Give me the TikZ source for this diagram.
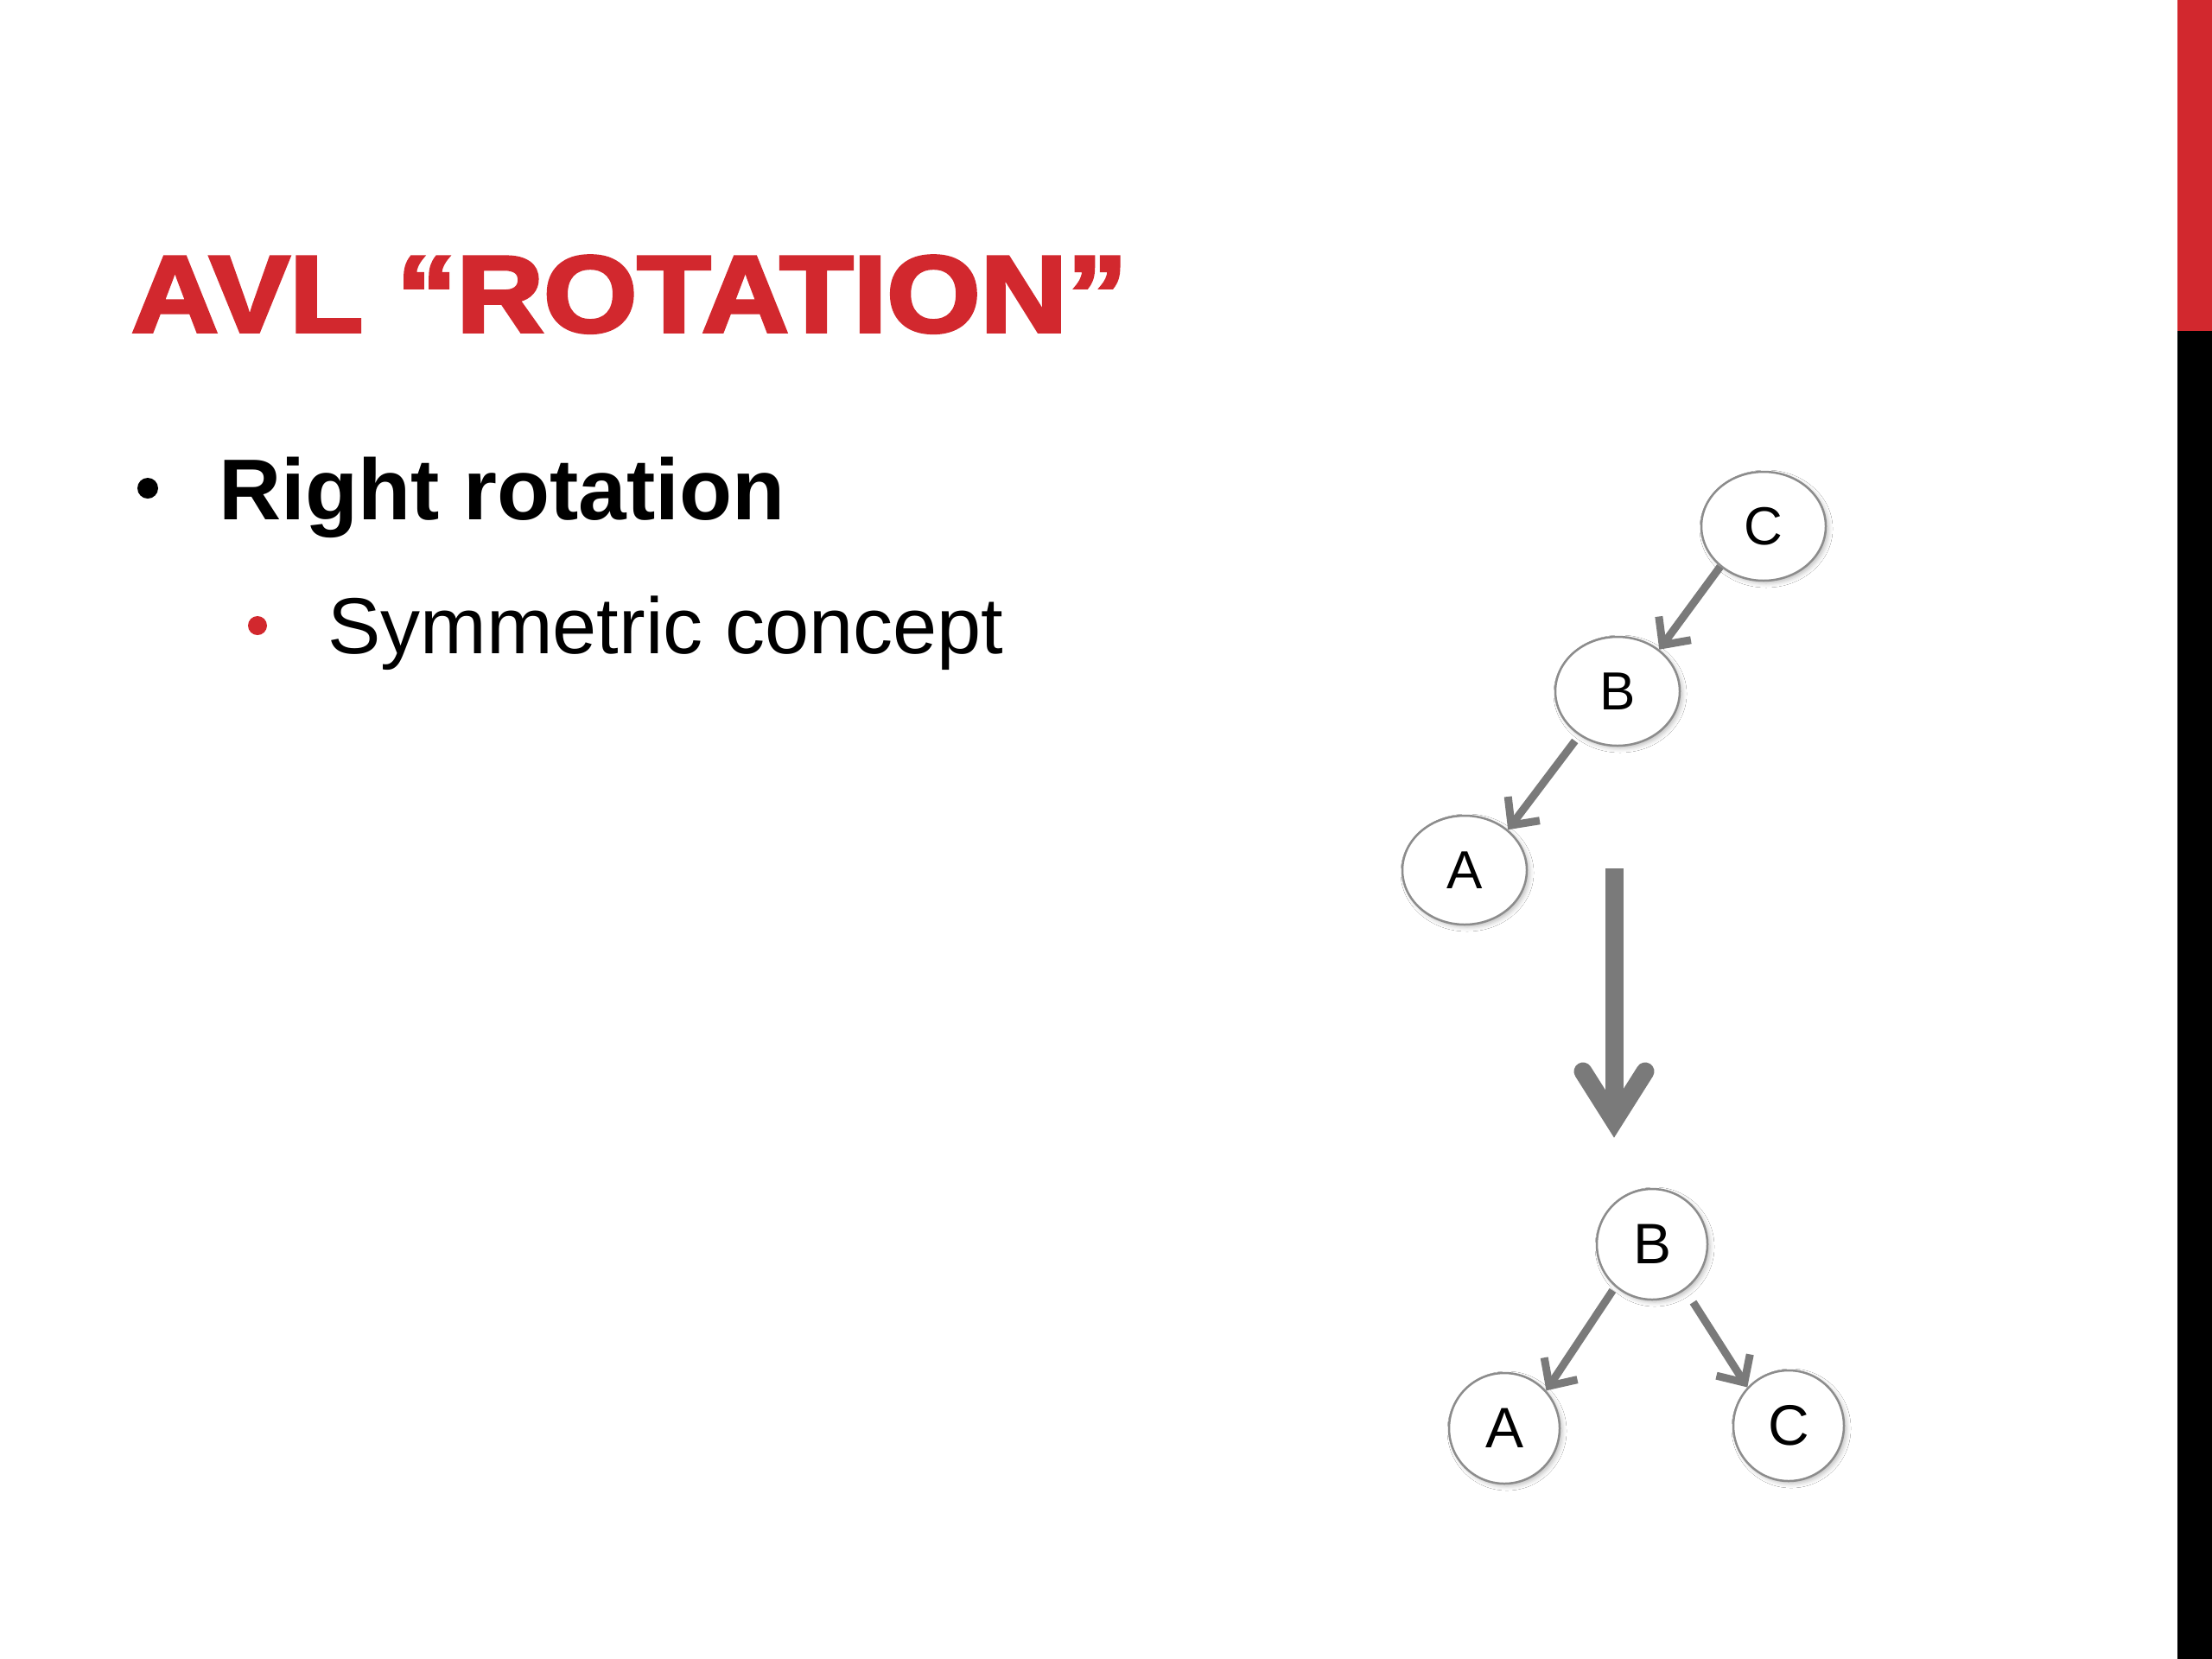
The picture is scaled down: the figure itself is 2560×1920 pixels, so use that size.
\documentclass[tikz,border=0pt]{standalone}
\usepackage{fontspec}
\usepackage{graphicx}
\setmainfont{Liberation Sans}
\newfontfamily\titlefont[BoldFeatures={FakeBold=3}]{Liberation Sans}
\usetikzlibrary{arrows.meta,shadows.blur,shapes.geometric}
\definecolor{avlred}{RGB}{210,40,46}
\definecolor{edgegray}{RGB}{122,122,122}
\definecolor{nodegray}{RGB}{140,140,140}
\tikzset{
  treenode/.style={draw=nodegray, line width=2.5pt, fill=white, inner sep=0pt,
    blur shadow={shadow xshift=3pt, shadow yshift=-3pt, shadow blur radius=5pt, shadow opacity=25}},
  topnode/.style={treenode, ellipse, minimum width=144pt, minimum height=126pt,
    font=\fontsize{62}{64}\selectfont},
  botnode/.style={treenode, circle, minimum size=128pt,
    font=\fontsize{66}{68}\selectfont},
  treeedge/.style={draw=edgegray, line width=9pt, -{Straight Barb[length=24pt,width=46pt]}},
  bigarrow/.style={draw=edgegray, line width=21pt},
}
\begin{document}
\begin{tikzpicture}[x=1pt,y=-1pt]
\useasboundingbox (0,0) rectangle (2560,1920);
\fill[white] (0,0) rectangle (2560,1920);
% right bar
\fill[avlred] (2520,0) rectangle (2560,383);
\fill[black] (2520,383) rectangle (2560,1920);
% title
\node[anchor=base west, text=avlred, inner sep=0pt] (title) at (152,384)
  {\titlefont\bfseries\fontsize{126}{130}\selectfont\scalebox{1.105}[1]{AVL “ROTATION”}};
% bullets
\fill[black] (171,565) circle (12);
\node[anchor=base west, inner sep=0pt] (b1) at (253,601)
  {\bfseries\fontsize{100}{104}\selectfont Right rotation};
\fill[avlred] (298,724) circle (11);
\node[anchor=base west, inner sep=0pt] (b2) at (379,756)
  {\fontsize{92}{96}\selectfont Symmetric concept};
% top tree
\node[topnode] (tC) at (2041,609) {C};
\node[topnode] (tB) at (1872,800) {B};
\node[topnode] (tA) at (1695,1007) {A};
\draw[treeedge] (tC.223) -- (tB.45);
\draw[treeedge, shorten <=8pt] (tB.229) -- (tA.43);
% big arrow
\coordinate (bigtop) at (1868,1005);
\coordinate (bigjoint) at (1868,1297);
\draw[bigarrow] (bigtop) -- (bigjoint);
\draw[bigarrow, line cap=round, line join=miter] (1832,1240) -- (bigjoint) -- (1904,1240);
% bottom tree
\node[botnode] (bB) at (1912,1440) {B};
\node[botnode] (bA) at (1741,1653) {A};
\node[botnode] (bC) at (2070,1650) {C};
\draw[treeedge, shorten <=5pt] (bB.229) -- (bA.42);
\draw[treeedge, shorten <=17pt] (bB.306) -- (bC.137);
\end{tikzpicture}
\end{document}
